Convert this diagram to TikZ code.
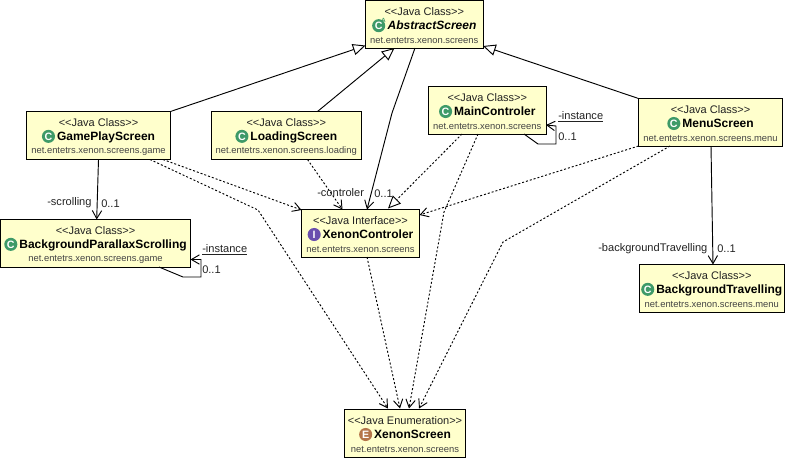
\documentclass[tikz,border=0pt]{standalone}
\usepackage{fontspec}
\setmainfont{Liberation Sans}
\usetikzlibrary{arrows.meta}
\definecolor{boxfill}{HTML}{FFFFCC}
\definecolor{labelc}{HTML}{222222}
\definecolor{pkgc}{HTML}{444444}
\definecolor{iconC}{HTML}{3E9A68}
\definecolor{iconI}{HTML}{6A4FAE}
\definecolor{iconE}{HTML}{B5754A}
\tikzset{
  umlbox/.style={draw=black,fill=boxfill,line width=0.75pt,inner sep=0pt,outer sep=0pt,anchor=north west},
  stereo/.style={font=\fontsize{8.25pt}{10pt}\selectfont,text=labelc,inner sep=0pt,anchor=center},
  titletext/.style={font=\fontsize{9pt}{11pt}\selectfont\bfseries,text=black,inner sep=0pt,anchor=center},
  pkg/.style={font=\fontsize{7.05pt}{8pt}\selectfont,text=pkgc,inner sep=0pt,anchor=center},
  lbl/.style={font=\fontsize{8.3pt}{9pt}\selectfont,text=labelc,inner sep=0pt},
  conn/.style={line width=0.7pt,draw=black},
  dep/.style={conn,dash pattern=on 1.5pt off 1.5pt},
  openarr/.style={-{Straight Barb[length=6pt,width=7pt,line width=0.7pt]}},
  opentri/.style={-{Triangle[length=9.5pt,width=8.5pt,fill=white,line width=0.7pt]}},
}
\newcommand{\kindicon}[3]{\tikz[baseline=-0.36em,x=1pt,y=1pt]{\fill[#1](0,0)circle(4.9pt);\node[inner sep=0pt,text=white,font=\fontsize{8pt}{8pt}\selectfont\bfseries] at (0,0){#2};#3}\hspace{1.5pt}}
% name, x0, y0, width, height, stereotype, title, package
\newcommand{\umlclass}[8]{%
  \node[umlbox,minimum width=#4*0.75pt,minimum height=#5*0.75pt] (#1) at (#2,#3) {};
  \node[stereo] (#1-s) at ([shift={(0,11.5)}]#1.north) {{<}{<}#6{>}{>}};
  \node[pkg] (#1-p) at ([shift={(0,40)}]#1.north) {#8};
  \node[titletext] (#1-t) at ([shift={(0,25)}]#1.north) {#7};
}
\newcommand{\ttl}[3]{\kindicon{#1}{#2}{}#3}
\begin{document}
\begin{tikzpicture}[x=0.75pt,y=-0.75pt]
\useasboundingbox (0,0) rectangle (788,458);
\umlclass{abs}{365.5}{0.5}{117.5}{47.5}{Java Class}{\kindicon{iconC}{C}{\node[inner sep=0pt,text=iconC,font=\fontsize{4.5pt}{5pt}\selectfont\bfseries] at (3.6,3.6){A};}{\itshape AbstractScreen}}{net.entetrs.xenon.screens}
\umlclass{main}{428.5}{86.5}{117.5}{47.5}{Java Class}{\ttl{iconC}{C}{MainControler}}{net.entetrs.xenon.screens}
\umlclass{game}{26.5}{111.5}{144}{48}{Java Class}{\ttl{iconC}{C}{GamePlayScreen}}{net.entetrs.xenon.screens.game}
\umlclass{load}{211.5}{111.5}{149.5}{48}{Java Class}{\ttl{iconC}{C}{LoadingScreen}}{net.entetrs.xenon.screens.loading}
\umlclass{menu}{638.5}{98.5}{144}{47.5}{Java Class}{\ttl{iconC}{C}{MenuScreen}}{net.entetrs.xenon.screens.menu}
\umlclass{para}{0.5}{219.5}{190}{47.5}{Java Class}{\ttl{iconC}{C}{BackgroundParallaxScrolling}}{net.entetrs.xenon.screens.game}
\umlclass{ctrl}{301.5}{209.5}{118}{47.5}{Java Interface}{\ttl{iconI}{I}{XenonControler}}{net.entetrs.xenon.screens}
\umlclass{trav}{639.5}{264.5}{144.5}{47.5}{Java Class}{\ttl{iconC}{C}{BackgroundTravelling}}{net.entetrs.xenon.screens.menu}
\umlclass{scr}{344.5}{409.5}{121}{47.5}{Java Enumeration}{\ttl{iconE}{E}{XenonScreen}}{net.entetrs.xenon.screens}

% generalisations
\draw[conn,opentri] ([shift={(144,0)}]game.north west) -- ([shift={(0,-2.5)}]abs.south west);
\draw[conn,opentri] ([shift={(106,0)}]load.north west) -- ([shift={(29,0)}]abs.south west);
\draw[conn,opentri] (menu.north west) -- ([shift={(0,-2)}]abs.south east);
% associations
\coordinate (absbend) at (392,113);
\draw[conn,openarr] ([shift={(49.5,0)}]abs.south west) -- (absbend) -- ([shift={(65.5,0)}]ctrl.north west);
\draw[conn,openarr] ([shift={(72,0)}]game.south west) -- ([shift={(96.2,0)}]para.north west);
\draw[conn,openarr] ([shift={(72.5,0)}]menu.south west) -- ([shift={(73.5,0)}]trav.north west);
\coordinate (m1) at (538,144);\coordinate (m2) at (556,144);\coordinate (m3) at (556,126);
\draw[conn,openarr] ([shift={(95.5,0)}]main.south west) -- (m1) -- (m2) -- (m3) -- ([shift={(0,-9)}]main.south east);
\coordinate (p1) at (183,277);\coordinate (p2) at (201,277);\coordinate (p3) at (201,259.5);
\draw[conn,openarr] ([shift={(158.5,0)}]para.south west) -- (p1) -- (p2) -- (p3) -- ([shift={(0,-7.5)}]para.south east);
% dependencies
\draw[dep,openarr] ([shift={(136.5,0)}]game.south west) -- ([shift={(0,0.5)}]ctrl.north west);
\draw[dep,openarr] ([shift={(96,0)}]load.south west) -- ([shift={(41,0)}]ctrl.north west);
\draw[dep,openarr] (menu.south west) -- ([shift={(0,5.5)}]ctrl.north east);
\draw[dep,opentri] ([shift={(33.5,0)}]main.south west) -- ([shift={(86.5,-1)}]ctrl.north west);
\coordinate (g1) at (258,210);\coordinate (m4) at (444,212);\coordinate (e1) at (503,242);
\draw[dep,openarr] ([shift={(123.5,0)}]game.south west) -- (g1) -- ([shift={(43.5,-1)}]scr.north west);
\draw[dep,openarr] ([shift={(65.5,0)}]ctrl.south west) -- ([shift={(55.5,-1)}]scr.north west);
\draw[dep,openarr] ([shift={(49.5,0)}]main.south west) -- (m4) -- ([shift={(64.5,-1)}]scr.north west);
\draw[dep,openarr] ([shift={(31.5,0)}]menu.south west) -- (e1) -- ([shift={(74.5,-1)}]scr.north west);
% labels
\node[lbl,anchor=west] (l1) at (47,203) {-scrolling};
\node[lbl,anchor=west] (l2) at (101,204) {0..1};
\node[lbl,anchor=west] (l3) at (202,250) {\underline{-instance}};
\node[lbl,anchor=west] (l4) at (202,270) {0..1};
\node[lbl,anchor=west] (l5) at (558,117) {\underline{-instance}};
\node[lbl,anchor=west] (l6) at (558,137) {0..1};
\node[lbl,anchor=west] (l7) at (598,249) {-backgroundTravelling};
\node[lbl,anchor=west] (l8) at (717,249) {0..1};
\node[lbl,anchor=west] (l9) at (374,194) {0..1};
\node[lbl,anchor=west] (l10) at (317,193) {-controler};
\end{tikzpicture}
\end{document}
